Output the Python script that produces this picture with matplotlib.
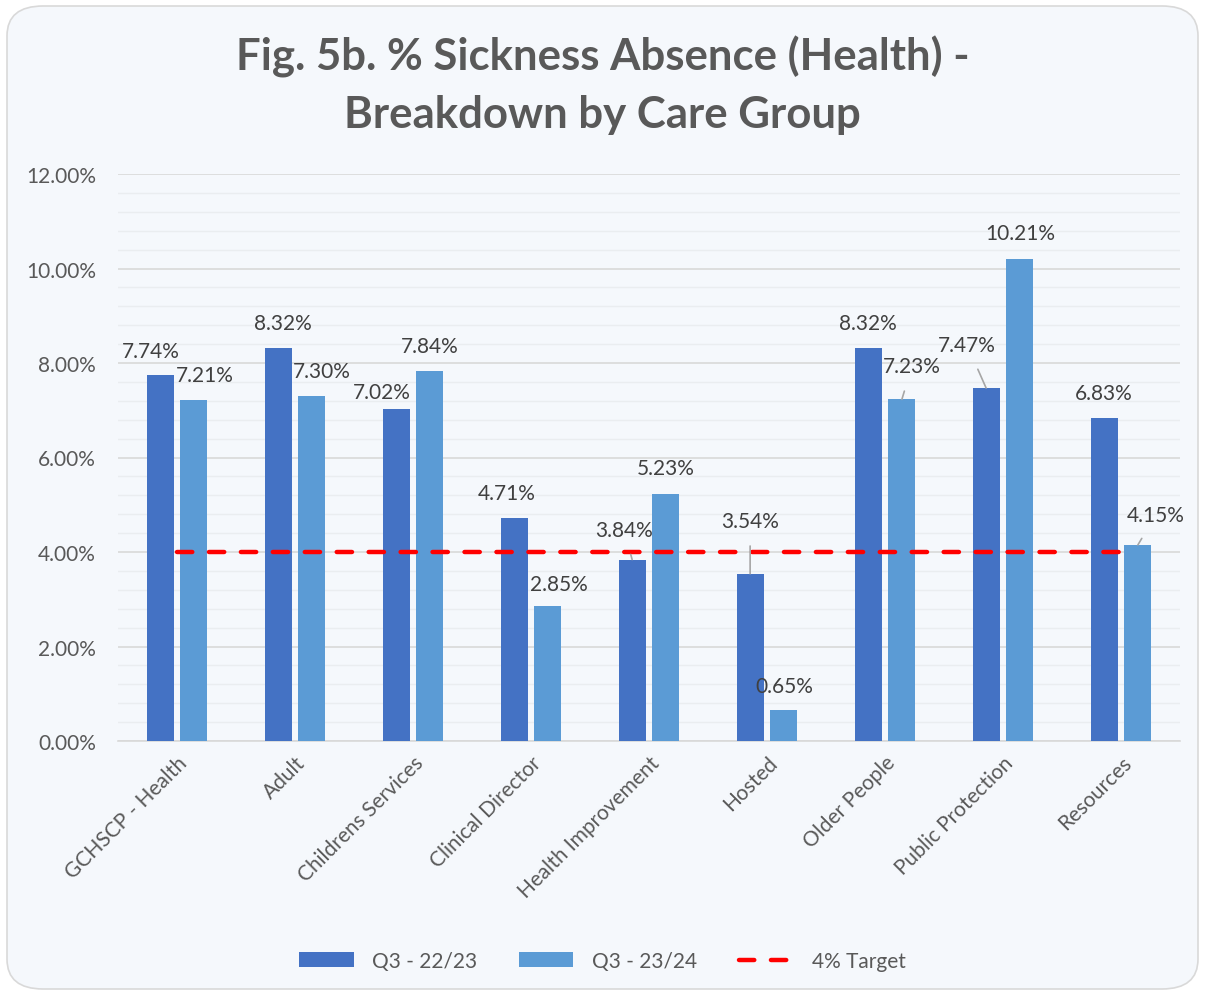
import matplotlib
matplotlib.use("Agg")
import matplotlib.pyplot as plt
from matplotlib.patches import FancyBboxPatch
import numpy as np

plt.rcParams['font.family'] = ['Lato', 'DejaVu Sans']
plt.rcParams['lines.scale_dashes'] = False

categories = ["GCHSCP - Health", "Adult", "Childrens Services", "Clinical Director",
              "Health Improvement", "Hosted", "Older People", "Public Protection", "Resources"]
q3_2223 = [7.74, 8.32, 7.02, 4.71, 3.84, 3.54, 8.32, 7.47, 6.83]
q3_2324 = [7.21, 7.30, 7.84, 2.85, 5.23, 0.65, 7.23, 10.21, 4.15]
target = [4.0] * len(categories)
yticks = [0, 2, 4, 6, 8, 10, 12]

# label offsets in pixels (dx, dy) relative to bar top, and whether a leader line is drawn
off_2223 = [(-9, 24), (5, 25), (-14, 17), (-7, 25), (-8, 30), (0, 53), (0, 25), (-19, 43), (0, 25)]
lead_2223 = [False, False, False, False, True, True, False, True, False]
off_2324 = [(11, 25), (10, 25), (0, 25), (11, 22), (0, 26), (0, 24), (10, 33), (0, 26), (18, 30)]
lead_2324 = [False, False, False, False, False, False, True, False, True]

W, H = 1205, 995
fig = plt.figure(figsize=(W / 100, H / 100), dpi=100, facecolor='white')
bg = FancyBboxPatch((7 / W, 5 / H), (W - 14) / W, (H - 12) / H,
                    boxstyle="round,pad=0,rounding_size=0.03", transform=fig.transFigure,
                    facecolor='#F5F8FC', edgecolor='#D9D9D9', linewidth=1.2, zorder=-10)
fig.patches.append(bg)

ax = fig.add_axes([118 / W, (H - 742) / H, (1180 - 118) / W, (742 - 175) / H])
ax.set_zorder(2)
ax.set_facecolor('none')

x = np.arange(len(categories))
bw = 0.228
off = 0.143
dark = '#4472C4'
light = '#5B9BD5'
b1 = ax.bar(x - off, q3_2223, bw, color=dark, label='Q3 - 22/23', zorder=3)
b2 = ax.bar(x + off, q3_2324, bw, color=light, label='Q3 - 23/24', zorder=3)
ln, = ax.plot(x, target, color='#FF0000', lw=3.2, dashes=(11, 12), dash_capstyle='round',
              label='4% Target', zorder=4)

ax.set_xlim(-0.5, len(categories) - 0.5)
ax.set_ylim(0, 12)
ax.set_yticks(yticks)
ax.set_yticklabels([f"{v:.2f}%" for v in yticks])
ax.set_yticks(np.arange(0, 12.01, 0.4), minor=True)
ax.grid(axis='y', which='major', color='#D9D9D9', lw=1.2, zorder=0)
ax.grid(axis='y', which='minor', color='#EAEDF0', lw=1.0, zorder=0)
for s in ['top', 'right', 'left']:
    ax.spines[s].set_visible(False)
ax.spines['bottom'].set_color('#D9D9D9')
ax.spines['bottom'].set_linewidth(1.2)
ax.tick_params(axis='both', which='both', length=0)
ax.tick_params(axis='y', labelsize=15, labelcolor='#595959', pad=16)
ax.set_xticks(x)
ax.set_xticklabels(categories, rotation=45, ha='right', rotation_mode='anchor',
                   fontsize=15, color='#595959')
ax.tick_params(axis='x', pad=8)

def label_bars(bars, vals, offs, leads):
    for b, v, (dx, dy), ld in zip(bars, vals, offs, leads):
        xc = b.get_x() + b.get_width() / 2
        ap = None
        if ld:
            ap = dict(arrowstyle='-', color='#A6A6A6', lw=1.2, shrinkA=9, shrinkB=0)
        ax.annotate(f"{v:.2f}%", xy=(xc, v), xytext=(dx, dy), textcoords='offset pixels',
                    ha='center', va='center', fontsize=15, color='#404040',
                    arrowprops=ap, zorder=5)

label_bars(b1, q3_2223, off_2223, lead_2223)
label_bars(b2, q3_2324, off_2324, lead_2324)

fig.text(0.5, 1 - 57 / H, "Fig. 5b. % Sickness Absence (Health) -", ha='center', va='center',
         fontsize=31.5, fontweight='bold', color='#595959')
fig.text(0.5, 1 - 115 / H, "Breakdown by Care Group", ha='center', va='center',
         fontsize=31.5, fontweight='bold', color='#595959')

leg = fig.legend(handles=[b1, b2, ln], loc='center', bbox_to_anchor=(0.5, 1 - 962 / H),
                 ncol=3, frameon=False, fontsize=15, handlelength=2.6, handleheight=0.7,
                 columnspacing=2.0, handletextpad=0.9)
for t in leg.get_texts():
    t.set_color('#595959')

fig.savefig('out.png', dpi=100, facecolor='white')
